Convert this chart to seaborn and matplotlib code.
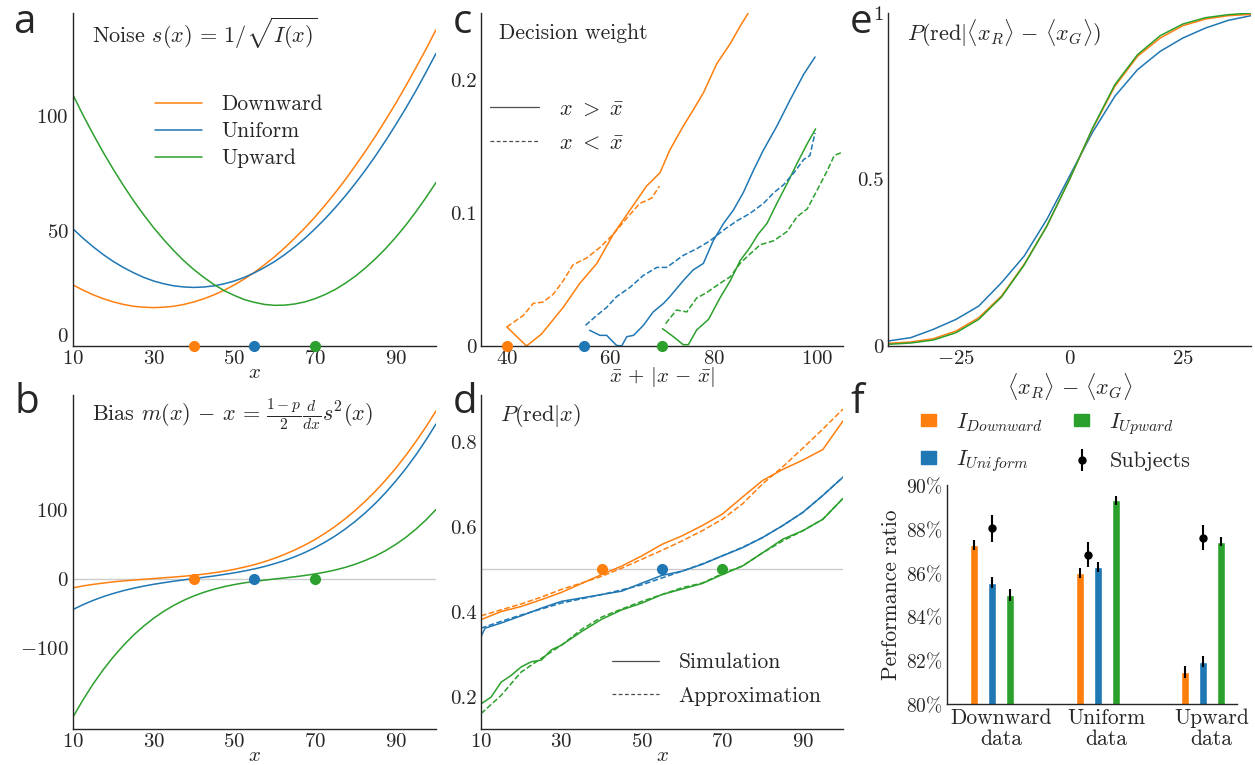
import numpy as np
import pandas as pd
import seaborn as sns
import matplotlib.pyplot as plt
from matplotlib.patches import Patch

sns.set_style('white')
plt.rcParams['font.family'] = ['cmr10']
plt.rcParams['mathtext.fontset'] = 'cm'
plt.rcParams['axes.formatter.use_mathtext'] = True
plt.rcParams['font.size'] = 15
plt.rcParams['axes.edgecolor'] = '.15'
plt.rcParams['axes.linewidth'] = 1.0

C_DOWN, C_UNIF, C_UP = '#ff7f0e', '#1f77b4', '#2ca02c'

# a: noise s(x)
x_fine = [10, 12.5, 15, 17.5, 20, 22.5, 25, 27.5, 30, 32.5, 35, 37.5, 40, 42.5, 45, 47.5, 50, 52.5, 55,
          57.5, 60, 62.5, 65, 67.5, 70, 72.5, 75, 77.5, 80, 82.5, 85, 87.5, 90, 92.5, 95, 97.5, 100]
noise_down = [26.6, 24.3, 22.3, 20.6, 19.2, 18.1, 17.3, 16.9, 16.7, 16.9, 17.3, 18.1, 19.2, 20.6, 22.3, 24.3, 26.6, 29.2, 32.1,
              35.4, 38.9, 42.8, 47.0, 51.4, 56.2, 61.3, 66.7, 72.4, 78.5, 84.8, 91.4, 98.4, 105.6, 113.2, 121.1, 129.2, 137.7]
noise_unif = [51.0, 46.9, 43.2, 39.8, 36.8, 34.2, 31.9, 29.9, 28.3, 27.1, 26.2, 25.7, 25.5, 25.7, 26.2, 27.1, 28.3, 29.9, 31.9,
              34.2, 36.8, 39.8, 43.2, 46.9, 51.0, 55.4, 60.2, 65.3, 70.8, 76.6, 82.8, 89.4, 96.3, 103.5, 111.1, 119.1, 127.4]
noise_up = [109.3, 100.5, 92.2, 84.3, 76.9, 69.9, 63.3, 57.2, 51.5, 46.3, 41.5, 37.1, 33.2, 29.8, 26.7, 24.1, 22.0, 20.2, 19.0,
            18.1, 17.7, 17.8, 18.3, 19.2, 20.6, 22.4, 24.6, 27.3, 30.4, 34.0, 38.0, 42.4, 47.3, 52.6, 58.4, 64.6, 71.2]
means = [40, 55, 70]

# b: bias
bias_down = [-13.4, -10.7, -8.4, -6.5, -4.8, -3.4, -2.2, -1.1, 0.0, 1.1, 2.2, 3.4, 4.8, 6.5, 8.4, 10.7, 13.4, 16.6, 20.2,
             24.5, 29.4, 35.1, 41.5, 48.6, 56.6, 65.7, 75.6, 86.7, 98.9, 112.2, 126.7, 142.6, 159.7, 178.3, 198.4, 219.8, 242.9]
bias_unif = [-44.8, -37.8, -31.6, -26.2, -21.6, -17.5, -14.0, -11.0, -8.3, -6.0, -3.8, -1.9, 0.0, 1.9, 3.8, 6.0, 8.3, 11.0, 14.0,
             17.5, 21.6, 26.2, 31.6, 37.8, 44.8, 52.8, 61.7, 71.8, 83.0, 95.4, 109.2, 124.4, 141.1, 159.2, 179.0, 200.7, 224.0]
bias_up = [-200.7, -175.5, -152.7, -132.0, -113.5, -96.9, -82.0, -69.0, -57.5, -47.5, -38.8, -31.4, -25.1, -19.8, -15.4, -11.7, -8.7, -6.2, -4.1,
           -2.3, -0.6, 1.0, 2.6, 4.5, 6.7, 9.3, 12.4, 16.2, 20.8, 26.3, 32.8, 40.4, 49.4, 59.6, 71.5, 84.9, 100.0]

# c: decision weight
w_down_gt_x = [40, 43.8, 46.7, 50.9, 54.1, 57.4, 60.6, 63.8, 67, 69.6, 71.5, 74.1, 76, 78, 80.6, 83.2, 85.1, 87, 88]
w_down_gt = [0.0143, 0, 0.009, 0.029, 0.047, 0.062, 0.084, 0.102, 0.12, 0.13, 0.147, 0.165, 0.177, 0.19, 0.212, 0.227, 0.24, 0.252, 0.256]
w_down_lt_x = [40, 43.2, 45.1, 47, 49, 50.9, 52.8, 55.4, 58, 60.6, 63.2, 65.7, 68, 69.5]
w_down_lt = [0.0143, 0.023, 0.032, 0.033, 0.039, 0.049, 0.061, 0.066, 0.074, 0.084, 0.096, 0.107, 0.111, 0.12]
w_unif_gt_x = [56, 58, 59.3, 61.2, 62.2, 63.2, 64.5, 66.4, 68.3, 70.3, 71.5, 74.1, 76, 78, 79.9, 81.9, 83.8, 85.7, 87.7, 89.6, 92.2, 94.8, 97.4, 99.6]
w_unif_gt = [0.0118, 0.008, 0.008, 0.0005, 0, 0.007, 0.008, 0.0155, 0.0256, 0.032, 0.037, 0.049, 0.057, 0.062, 0.079, 0.092, 0.102, 0.115, 0.132, 0.147, 0.165, 0.185, 0.204, 0.217]
w_unif_lt_x = [55.2, 57.4, 59.3, 61.2, 63.8, 66.4, 69, 70.9, 74.1, 76.7, 79.3, 81.9, 84.5, 87, 89.6, 91.6, 93.5, 95.5, 97.4, 98.6, 99.6]
w_unif_lt = [0.0155, 0.023, 0.029, 0.037, 0.044, 0.053, 0.059, 0.059, 0.068, 0.073, 0.079, 0.087, 0.094, 0.0995, 0.107, 0.115, 0.121, 0.13, 0.14, 0.143, 0.16]
w_up_gt_x = [70.1, 72.2, 74.1, 75.1, 76.7, 79, 81.2, 83.2, 85.1, 87, 88.6, 90.3, 92.2, 94.2, 96.1, 98.1, 99.7]
w_up_gt = [0.013, 0.007, 0.001, 0.001, 0.012, 0.02, 0.036, 0.049, 0.064, 0.074, 0.084, 0.092, 0.107, 0.122, 0.137, 0.152, 0.163]
w_up_lt_x = [70.7, 72.8, 74.8, 76.7, 78.6, 81.2, 83.2, 85.1, 87, 89, 91.6, 94.2, 96.1, 98.1, 100, 102, 103.3, 105.2]
w_up_lt = [0.0168, 0.027, 0.0256, 0.036, 0.04, 0.047, 0.052, 0.062, 0.069, 0.076, 0.079, 0.086, 0.097, 0.103, 0.117, 0.132, 0.143, 0.146]

# d: P(red|x)
x_grid = [10, 15, 20, 25, 30, 35, 40, 45, 50, 55, 60, 65, 70, 75, 80, 85, 90, 95, 100]
p_down_sim = [0.382, 0.401, 0.413, 0.429, 0.446, 0.467, 0.488, 0.508, 0.532, 0.559, 0.579, 0.603, 0.630, 0.670, 0.709, 0.735, 0.757, 0.782, 0.849]
p_down_app = [0.391, 0.405, 0.419, 0.435, 0.453, 0.468, 0.484, 0.503, 0.524, 0.545, 0.567, 0.591, 0.618, 0.654, 0.701, 0.741, 0.785, 0.830, 0.877]
p_unif_sim_x = [10, 11, 15, 20, 25, 30, 35, 40, 45, 50, 55, 60, 65, 70, 75, 80, 85, 90, 95, 100]
p_unif_sim = [0.342, 0.362, 0.374, 0.391, 0.409, 0.425, 0.433, 0.441, 0.449, 0.468, 0.486, 0.496, 0.512, 0.532, 0.551, 0.575, 0.603, 0.634, 0.674, 0.717]
p_unif_app = [0.362, 0.378, 0.393, 0.407, 0.421, 0.431, 0.441, 0.452, 0.464, 0.480, 0.496, 0.513, 0.532, 0.552, 0.575, 0.603, 0.634, 0.674, 0.717]
p_up_sim_x = [10, 12.5, 15, 17.5, 20, 22.5, 25, 27.5, 30, 35, 40, 45, 50, 55, 60, 65, 70, 75, 80, 85, 90, 95, 100]
p_up_sim = [0.184, 0.2, 0.235, 0.251, 0.271, 0.283, 0.287, 0.311, 0.322, 0.354, 0.383, 0.405, 0.421, 0.441, 0.454, 0.467, 0.488, 0.508, 0.539, 0.571, 0.591, 0.618, 0.667]
p_up_app = [0.161, 0.204, 0.259, 0.291, 0.322, 0.359, 0.388, 0.407, 0.425, 0.441, 0.457, 0.468, 0.490, 0.508, 0.539, 0.567, 0.591, 0.618, 0.667]

# e: psychometric
d_grid = [-40, -35, -30, -25, -20, -15, -10, -5, 0, 5, 10, 15, 20, 25, 30, 35, 40]
psy_down = [0.008, 0.012, 0.022, 0.045, 0.085, 0.15, 0.245, 0.36, 0.50, 0.65, 0.78, 0.87, 0.925, 0.962, 0.982, 0.992, 0.996]
psy_unif = [0.015, 0.025, 0.05, 0.08, 0.12, 0.19, 0.27, 0.38, 0.51, 0.64, 0.75, 0.83, 0.885, 0.925, 0.955, 0.978, 0.992]
psy_up = [0.005, 0.009, 0.018, 0.04, 0.08, 0.147, 0.243, 0.36, 0.50, 0.652, 0.785, 0.875, 0.932, 0.967, 0.986, 0.995, 1.0]

# f: performance
data_groups = ['Downward\ndata', 'Uniform\ndata', 'Upward\ndata']
perf_down = [0.8728, 0.8599, 0.8147]
perf_unif = [0.8553, 0.8627, 0.8194]
perf_up = [0.8498, 0.8931, 0.8742]
err_down = [0.0023, 0.0024, 0.0028]
err_unif = [0.0025, 0.0023, 0.0027]
err_up = [0.0027, 0.0021, 0.0021]
subj_perf = [0.8802, 0.8682, 0.8760]
subj_err = [0.0060, 0.0057, 0.0059]
subj_shift = [0.0, -0.09, 0.0]

W, H = 1255, 765
fig = plt.figure(figsize=(W / 100, H / 100), dpi=100)


def box(l, t, r, b):
    return [l / W, 1 - b / H, (r - l) / W, (b - t) / H]


ax_a = fig.add_axes(box(73, 13, 436, 346))
ax_b = fig.add_axes(box(73, 395, 436, 729))
ax_c = fig.add_axes(box(481, 13, 843, 346))
ax_d = fig.add_axes(box(481, 395, 843, 729))
ax_e = fig.add_axes(box(888, 13, 1251, 346))
ax_f = fig.add_axes(box(947, 485, 1237, 704))

lw = 1.1
cols = [C_DOWN, C_UNIF, C_UP]

# ---- a
for y, c, lab in zip([noise_down, noise_unif, noise_up], cols, ['Downward', 'Uniform', 'Upward']):
    sns.lineplot(x=x_fine, y=y, color=c, lw=lw, ax=ax_a, label=lab)
ax_a.set_xlim(10, 100)
ax_a.set_ylim(0, 145)
ax_a.set_xticks([10, 30, 50, 70, 90])
ax_a.set_yticks([0, 50, 100])
ax_a.set_xlabel('$x$', labelpad=-3)
ax_a.text(0.052, 0.94, r'Noise $s(x)\,=\,1/\sqrt{I(x)}$', transform=ax_a.transAxes, va='center', fontsize=16)
ax_a.legend(loc='upper left', bbox_to_anchor=(0.226, 0.755), frameon=False, fontsize=15.5,
            handlelength=2.2, handletextpad=0.9, labelspacing=0.35, borderpad=0, borderaxespad=0)

# ---- b
ax_b.axhline(0, color='0.8', lw=1.0, zorder=0)
for y, c in zip([bias_down, bias_unif, bias_up], cols):
    sns.lineplot(x=x_fine, y=y, color=c, lw=lw, ax=ax_b)
ax_b.set_xlim(10, 100)
ax_b.set_ylim(-218, 266)
ax_b.set_xticks([10, 30, 50, 70, 90])
ax_b.set_yticks([-100, 0, 100])
ax_b.set_xlabel('$x$', labelpad=-3)
ax_b.text(0.052, 0.94, r'Bias $m(x)\,-\,x\,=\,\frac{1-p}{2}\frac{d}{dx}s^2(x)$', transform=ax_b.transAxes,
          va='center', fontsize=16)

# ---- c
for xs, ys, c in [(w_down_gt_x, w_down_gt, C_DOWN), (w_unif_gt_x, w_unif_gt, C_UNIF), (w_up_gt_x, w_up_gt, C_UP)]:
    sns.lineplot(x=xs, y=ys, color=c, lw=lw, ax=ax_c, sort=False)
for xs, ys, c in [(w_down_lt_x, w_down_lt, C_DOWN), (w_unif_lt_x, w_unif_lt, C_UNIF), (w_up_lt_x, w_up_lt, C_UP)]:
    sns.lineplot(x=xs, y=ys, color=c, lw=lw, ax=ax_c, sort=False, linestyle='--', dashes=(3, 2))
ax_c.set_xlim(35, 105)
ax_c.set_ylim(0, 0.25)
ax_c.set_xticks([40, 60, 80, 100])
ax_c.set_yticks([0, 0.1, 0.2])
ax_c.set_yticklabels(['0', '0.1', '0.2'])
ax_c.set_xlabel(r'$\bar{x}\,+\,|x\,-\,\bar{x}|$', labelpad=-2)
ax_c.text(0.05, 0.94, 'Decision weight', transform=ax_c.transAxes, va='center', fontsize=15.5)
h1, = ax_c.plot([], [], color='0.3', lw=0.9)
h2, = ax_c.plot([], [], color='0.3', lw=0.9, ls='--', dashes=(3, 2))
ax_c.legend([h1, h2], [r'$x\ >\ \bar{x}$', r'$x\ <\ \bar{x}$'], loc='upper left', bbox_to_anchor=(0.025, 0.74),
            frameon=False, fontsize=16, handlelength=2.2, handletextpad=0.9, labelspacing=0.65,
            borderpad=0, borderaxespad=0)

# ---- d
ax_d.axhline(0.5, color='0.8', lw=1.0, zorder=0)
sns.lineplot(x=x_grid, y=p_down_sim, color=C_DOWN, lw=lw, ax=ax_d)
sns.lineplot(x=p_unif_sim_x, y=p_unif_sim, color=C_UNIF, lw=lw, ax=ax_d)
sns.lineplot(x=p_up_sim_x, y=p_up_sim, color=C_UP, lw=lw, ax=ax_d)
for y, c in zip([p_down_app, p_unif_app, p_up_app], cols):
    sns.lineplot(x=x_grid, y=y, color=c, lw=lw, ax=ax_d, linestyle='--', dashes=(3, 2))
ax_d.set_xlim(10, 100)
ax_d.set_ylim(0.125, 0.91)
ax_d.set_xticks([10, 30, 50, 70, 90])
ax_d.set_yticks([0.2, 0.4, 0.6, 0.8])
ax_d.set_yticklabels(['0.2', '0.4', '0.6', '0.8'])
ax_d.set_xlabel('$x$', labelpad=-3)
ax_d.text(0.052, 0.94, r'$P(\mathrm{red}|x)$', transform=ax_d.transAxes, va='center', fontsize=16)
h1, = ax_d.plot([], [], color='0.3', lw=0.9)
h2, = ax_d.plot([], [], color='0.3', lw=0.9, ls='--', dashes=(3, 2))
ax_d.legend([h1, h2], ['Simulation', 'Approximation'], loc='upper left', bbox_to_anchor=(0.362, 0.228),
            frameon=False, fontsize=15.5, handlelength=2.2, handletextpad=0.9, labelspacing=0.65,
            borderpad=0, borderaxespad=0)

# dots on a, b, c, d
for m, c in zip(means, cols):
    ax_a.plot(m, 0, 'o', color=c, ms=7, clip_on=False, zorder=5)
    ax_b.plot(m, 0, 'o', color=c, ms=7, zorder=5)
    ax_c.plot(m, 0, 'o', color=c, ms=7, clip_on=False, zorder=5)
    ax_d.plot(m, 0.5, 'o', color=c, ms=7, zorder=5)

# ---- e
for y, c in zip([psy_unif, psy_down, psy_up], [C_UNIF, C_DOWN, C_UP]):
    sns.lineplot(x=d_grid, y=y, color=c, lw=lw, ax=ax_e)
ax_e.set_xlim(-40, 40)
ax_e.set_ylim(0, 1)
ax_e.set_xticks([-25, 0, 25])
ax_e.set_yticks([0, 0.5, 1])
ax_e.set_yticklabels(['0', '0.5', '1'])
ax_e.set_xlabel(r'$\langle x_R\rangle\,-\,\langle x_G\rangle$', labelpad=2, fontsize=16)
ax_e.text(0.052, 0.94, r'$P(\mathrm{red}|\langle x_R\rangle\,-\,\langle x_G\rangle)$', transform=ax_e.transAxes,
          va='center', fontsize=16)

# ---- f
df = pd.DataFrame({
    'group': data_groups * 3,
    'model': ['down'] * 3 + ['unif'] * 3 + ['up'] * 3,
    'perf': perf_down + perf_unif + perf_up,
})
sns.barplot(data=df, x='group', y='perf', hue='model', palette=cols, width=0.51, gap=0.56,
            saturation=1, ax=ax_f, legend=False, errorbar=None)
for k, (vals, errs) in enumerate([(perf_down, err_down), (perf_unif, err_unif), (perf_up, err_up)]):
    xs = np.arange(3) + (k - 1) * 0.17
    ax_f.errorbar(xs, vals, yerr=errs, fmt='none', ecolor='k', elinewidth=1.5, zorder=5)
subj = ax_f.errorbar(np.arange(3) + np.array(subj_shift), subj_perf, yerr=subj_err, fmt='o', color='k',
                     ms=5, elinewidth=1.5, zorder=6)
ax_f.set_xlim(-0.43, 2.32)
ax_f.set_ylim(0.80, 0.90)
ax_f.set_yticks([0.80, 0.82, 0.84, 0.86, 0.88, 0.90])
ax_f.set_yticklabels([r'$%d\%%$' % v for v in [80, 82, 84, 86, 88, 90]], fontsize=14)
ax_f.set_xticks(np.arange(3) + 0.08)
ax_f.set_xticklabels(data_groups, fontsize=15.5, linespacing=1.1)
ax_f.set_xlabel('')
ax_f.set_ylabel('Performance ratio', fontsize=15.5, labelpad=4)
hs = [Patch(color=C_DOWN), Patch(color=C_UNIF), Patch(color=C_UP), subj]
ax_f.legend(hs, ['$I_{Downward}$', '$I_{Uniform}$', '$I_{Upward}$', 'Subjects'], ncol=2,
            loc='upper left', bbox_to_anchor=(-0.09, 1.34), frameon=False, fontsize=16,
            handlelength=0.7, handleheight=0.5, handletextpad=0.9, columnspacing=1.36,
            labelspacing=0.67, borderpad=0, borderaxespad=0)

for ax in [ax_a, ax_b, ax_c, ax_d, ax_e, ax_f]:
    sns.despine(ax=ax)
    ax.tick_params(axis='both', pad=3, length=0)
for ax in [ax_b, ax_e]:
    if ax.get_legend() is not None:
        ax.get_legend().remove()

ax_a.yaxis.get_major_ticks()[0].label1.set_verticalalignment('bottom')

# panel letters
for letter, x, y in [('a', 13, 33), ('b', 15, 413), ('c', 453, 33), ('d', 453, 413), ('e', 850, 33), ('f', 850, 413)]:
    fig.text(x / W, 1 - y / H, letter, fontsize=29, family='Open Sans', va='baseline', ha='left')

fig.savefig('out.png', dpi=100)
